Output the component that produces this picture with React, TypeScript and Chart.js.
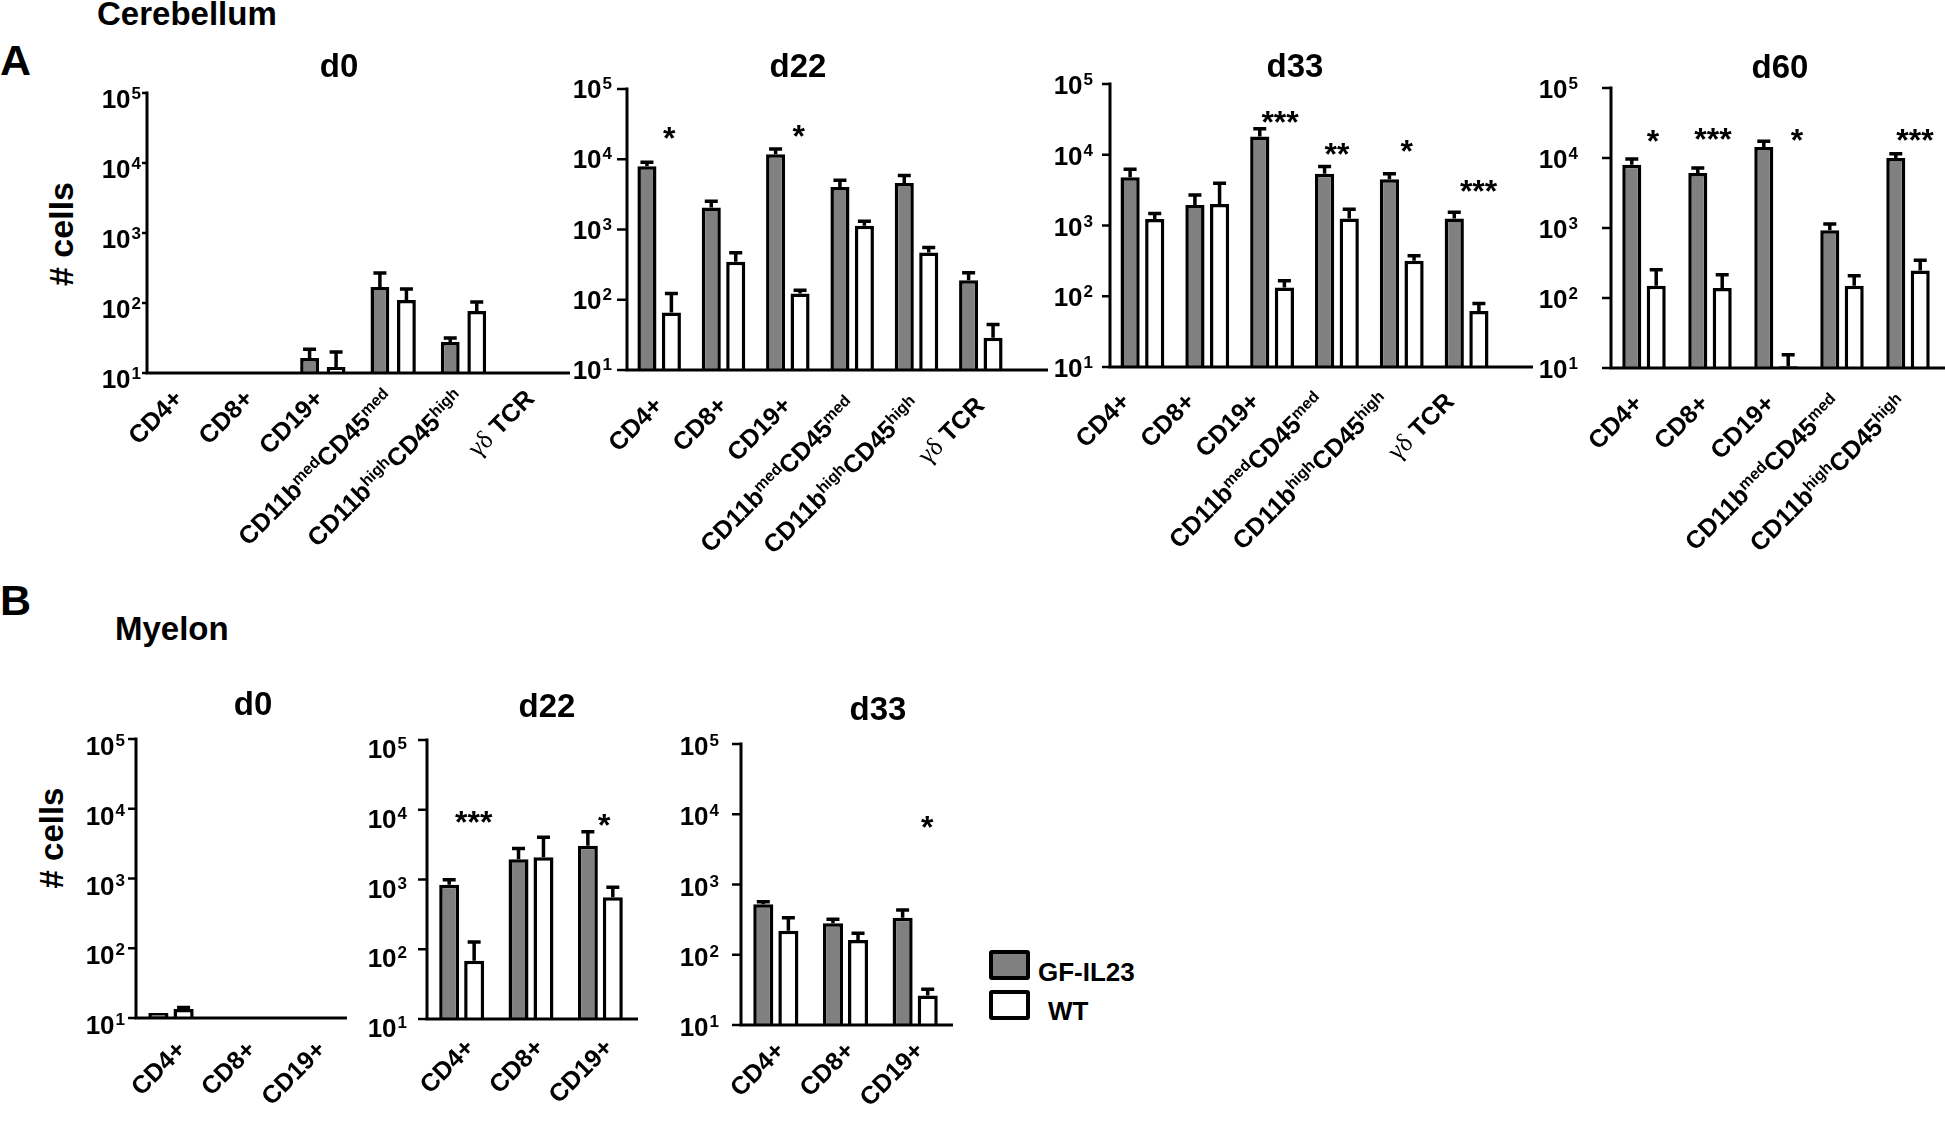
import React, { useEffect, useRef } from 'react';
import { Chart, registerables } from 'chart.js';
Chart.register(...registerables);

const SANS = '"Liberation Sans", Arial, Helvetica, sans-serif';
const SERIF = '"Liberation Serif", "Times New Roman", serif';
const GRAY = '#808080';

// ---------- categories & ticks ----------
const cerebellumCats = ['CD4+', 'CD8+', 'CD19+', 'CD11b^{med}CD45^{med}', 'CD11b^{high}CD45^{high}', 'γδ TCR'];
const cerebellumD60Cats = ['CD4+', 'CD8+', 'CD19+', 'CD11b^{med}CD45^{med}', 'CD11b^{high}CD45^{high}'];
const myelonCats = ['CD4+', 'CD8+', 'CD19+'];
const yTickValues = [10, 100, 1000, 10000, 100000];
const seriesNames = ['GF-IL23', 'WT'];

// ---------- A: Cerebellum ----------
const aD0Gf = [10.3, 10.3, 16.4, 169, 27.7, 10.3];
const aD0GfErr = [10.3, 10.3, 21.9, 269, 31.6, 10.3];
const aD0Wt = [10.3, 10.3, 12.2, 110, 76.9, 10.3];
const aD0WtErr = [10.3, 10.3, 20, 158, 103, 10.3];

const aD22Gf = [7940, 2060, 11800, 4040, 4610, 190];
const aD22GfErr = [9060, 2530, 14000, 5020, 5860, 242];
const aD22Wt = [66, 347, 123, 1128, 471, 28.8];
const aD22WtErr = [123, 466, 137, 1313, 555, 44.6];

const aD33Gf = [4810, 1950, 18150, 5370, 4510, 1260];
const aD33GfErr = [6250, 2700, 23300, 6820, 5370, 1540];
const aD33Wt = [1236, 2018, 133, 1260, 318, 62];
const aD33WtErr = [1472, 3957, 165, 1694, 374, 79];

const aD60Gf = [8035, 6110, 14360, 926, 10000];
const aD60GfErr = [9680, 7195, 17300, 1140, 11530];
const aD60Wt = [150, 139, 10.6, 150, 248];
const aD60WtErr = [254, 215, 15.5, 208, 345];

// ---------- B: Myelon ----------
const bD0Gf = [11.8, 10.2, 10.2];
const bD0GfErr = [12.3, 10.2, 10.2];
const bD0Wt = [13.5, 10.2, 10.2];
const bD0WtErr = [14.2, 10.2, 10.2];

const bD22Gf = [839, 1955, 3035];
const bD22GfErr = [989, 2778, 4820];
const bD22Wt = [68.4, 2090, 558];
const bD22WtErr = [127, 4040, 777];

const bD33Gf = [522, 280, 337];
const bD33GfErr = [570, 319, 434];
const bD33Wt = [220, 162, 26.2];
const bD33WtErr = [337, 202, 32.2];

// significance marks: category index, text, level (data units)
type Star = { i: number; text: string; value: number; dx: number };
const aD22Stars: Star[] = [
  { i: 0, text: '*', value: 25200, dx: 10 },
  { i: 2, text: '*', value: 26900, dx: 11 },
];
const aD33Stars: Star[] = [
  { i: 2, text: '***', value: 37000, dx: 8 },
  { i: 3, text: '**', value: 12900, dx: 0 },
  { i: 4, text: '*', value: 13970, dx: 5 },
  { i: 5, text: '***', value: 3860, dx: 12 },
];
const aD60Stars: Star[] = [
  { i: 0, text: '*', value: 21700, dx: 9 },
  { i: 1, text: '***', value: 23500, dx: 3 },
  { i: 2, text: '*', value: 22400, dx: 21 },
  { i: 4, text: '***', value: 23100, dx: 7 },
];
const bD22Stars: Star[] = [
  { i: 0, text: '***', value: 8410, dx: 12 },
  { i: 2, text: '*', value: 7740, dx: 4 },
];
const bD33Stars: Star[] = [{ i: 2, text: '*', value: 8280, dx: 12 }];

// ---------- layout ----------
type Panel = {
  key: string;
  title: string;
  cats: string[];
  gf: number[]; gfErr: number[]; wt: number[]; wtErr: number[];
  stars: Star[];
  box: { x: number; y: number; w: number; h: number };
  axisLeft: number; axisTop: number; axisBottom: number; catRight: number; lineRight: number;
  titleX: number; titleBase: number;
  tickLabelRight: number; tickDy: number; tickLen: number;
  labelDx: number; labelDy: number;
  catPct: number; barPct: number;
};

const panels: Panel[] = [
  {
    key: 'a0', title: 'd0', cats: cerebellumCats, gf: aD0Gf, gfErr: aD0GfErr, wt: aD0Wt, wtErr: aD0WtErr, stars: [],
    box: { x: 60, y: 40, w: 530, h: 560 }, axisLeft: 147, axisTop: 93, axisBottom: 373, catRight: 569, lineRight: 570,
    titleX: 339, titleBase: 77, tickLabelRight: 141, tickDy: 15, tickLen: 5, labelDx: 2, labelDy: 27, catPct: 0.754, barPct: 0.71,
  },
  {
    key: 'a22', title: 'd22', cats: cerebellumCats, gf: aD22Gf, gfErr: aD22GfErr, wt: aD22Wt, wtErr: aD22WtErr, stars: aD22Stars,
    box: { x: 540, y: 40, w: 520, h: 560 }, axisLeft: 627, axisTop: 89, axisBottom: 370, catRight: 1013, lineRight: 1048,
    titleX: 798, titleBase: 77, tickLabelRight: 612, tickDy: 9, tickLen: 10, labelDx: 5, labelDy: 37, catPct: 0.76, barPct: 0.78,
  },
  {
    key: 'a33', title: 'd33', cats: cerebellumCats, gf: aD33Gf, gfErr: aD33GfErr, wt: aD33Wt, wtErr: aD33WtErr, stars: aD33Stars,
    box: { x: 1025, y: 40, w: 520, h: 560 }, axisLeft: 1110, axisTop: 84, axisBottom: 367, catRight: 1499, lineRight: 1533,
    titleX: 1295, titleBase: 77, tickLabelRight: 1093, tickDy: 10, tickLen: 8, labelDx: -11, labelDy: 36, catPct: 0.76, barPct: 0.78,
  },
  {
    key: 'a60', title: 'd60', cats: cerebellumD60Cats, gf: aD60Gf, gfErr: aD60GfErr, wt: aD60Wt, wtErr: aD60WtErr, stars: aD60Stars,
    box: { x: 1520, y: 40, w: 425, h: 560 }, axisLeft: 1611, axisTop: 88, axisBottom: 368, catRight: 1941, lineRight: 1945,
    titleX: 1780, titleBase: 78, tickLabelRight: 1578, tickDy: 10, tickLen: 9, labelDx: 0, labelDy: 37, catPct: 0.74, barPct: 0.78,
  },
  {
    key: 'b0', title: 'd0', cats: myelonCats, gf: bD0Gf, gfErr: bD0GfErr, wt: bD0Wt, wtErr: bD0WtErr, stars: [],
    box: { x: 60, y: 680, w: 300, h: 441 }, axisLeft: 136, axisTop: 739, axisBottom: 1018, catRight: 346, lineRight: 347,
    titleX: 253, titleBase: 715, tickLabelRight: 125, tickDy: 16, tickLen: 8, labelDx: 16, labelDy: 33, catPct: 0.72, barPct: 0.8,
  },
  {
    key: 'b22', title: 'd22', cats: myelonCats, gf: bD22Gf, gfErr: bD22GfErr, wt: bD22Wt, wtErr: bD22WtErr, stars: bD22Stars,
    box: { x: 340, y: 680, w: 310, h: 441 }, axisLeft: 427, axisTop: 740, axisBottom: 1019, catRight: 635, lineRight: 638,
    titleX: 547, titleBase: 717, tickLabelRight: 407, tickDy: 18, tickLen: 9, labelDx: 14, labelDy: 30, catPct: 0.72, barPct: 0.8,
  },
  {
    key: 'b33', title: 'd33', cats: myelonCats, gf: bD33Gf, gfErr: bD33GfErr, wt: bD33Wt, wtErr: bD33WtErr, stars: bD33Stars,
    box: { x: 650, y: 680, w: 320, h: 441 }, axisLeft: 741, axisTop: 744, axisBottom: 1025, catRight: 950, lineRight: 953,
    titleX: 878, titleBase: 720, tickLabelRight: 719, tickDy: 11, tickLen: 9, labelDx: 10, labelDy: 27, catPct: 0.72, barPct: 0.8,
  },
];

// ---------- drawing helpers ----------
type Seg = { text: string; kind: 'main' | 'sup' | 'greek'; w?: number };
function parseLabel(label: string): Seg[] {
  const segs: Seg[] = [];
  let buf = '';
  let i = 0;
  const flush = () => { if (buf) { segs.push({ text: buf, kind: 'main' }); buf = ''; } };
  while (i < label.length) {
    const ch = label[i];
    if (ch === '^' && label[i + 1] === '{') {
      flush();
      const end = label.indexOf('}', i);
      segs.push({ text: label.slice(i + 2, end), kind: 'sup' });
      i = end + 1;
      continue;
    }
    if (ch === 'γ' || ch === 'δ') {
      flush();
      let g = '';
      while (i < label.length && (label[i] === 'γ' || label[i] === 'δ')) { g += label[i]; i++; }
      segs.push({ text: g, kind: 'greek' });
      continue;
    }
    buf += ch;
    i++;
  }
  flush();
  return segs;
}

const LABEL_SIZE = 25;
const SUP_SIZE = 16;
function segFont(s: Seg) {
  if (s.kind === 'sup') return `bold ${SUP_SIZE}px ${SANS}`;
  if (s.kind === 'greek') return `${LABEL_SIZE + 1}px ${SERIF}`;
  return `bold ${LABEL_SIZE}px ${SANS}`;
}

function makePlugin(p: Panel) {
  return {
    id: 'prismStyle_' + p.key,
    afterDatasetsDraw(chart: any) {
      const ctx: CanvasRenderingContext2D = chart.ctx;
      const xs = chart.scales.x;
      const ys = chart.scales.y;
      const ca = chart.chartArea;
      const ox = p.box.x;
      const oy = p.box.y;
      ctx.save();
      ctx.fillStyle = '#000';
      ctx.strokeStyle = '#000';

      // error bars (upper only)
      const errs = [p.gfErr, p.wtErr];
      ctx.lineWidth = 3.5;
      ctx.lineCap = 'butt';
      chart.data.datasets.forEach((_ds: any, di: number) => {
        const meta = chart.getDatasetMeta(di);
        meta.data.forEach((el: any, i: number) => {
          const top = el.y;
          const ey = ys.getPixelForValue(errs[di][i]);
          if (top - ey < 1.5) return;
          ctx.beginPath();
          ctx.moveTo(el.x, top);
          ctx.lineTo(el.x, ey);
          ctx.moveTo(el.x - 6.5, ey);
          ctx.lineTo(el.x + 6.5, ey);
          ctx.stroke();
        });
      });

      // axes
      ctx.lineWidth = 3;
      ctx.beginPath();
      ctx.moveTo(ca.left, ca.top - 1.5);
      ctx.lineTo(ca.left, ca.bottom + 1.5);
      ctx.moveTo(ca.left - 1.5, ca.bottom);
      ctx.lineTo(p.lineRight - ox, ca.bottom);
      ctx.stroke();

      // y ticks + labels (10^n)
      ctx.lineWidth = 2.5;
      ctx.textBaseline = 'alphabetic';
      ctx.textAlign = 'left';
      yTickValues.forEach((v) => {
        const y = ys.getPixelForValue(v);
        ctx.beginPath();
        ctx.moveTo(ca.left - p.tickLen, y);
        ctx.lineTo(ca.left, y);
        ctx.stroke();
        const exp = String(Math.round(Math.log10(v)));
        ctx.font = `bold 17px ${SANS}`;
        const we = ctx.measureText(exp).width;
        ctx.font = `bold 26px ${SANS}`;
        const wb = ctx.measureText('10').width;
        const right = p.tickLabelRight - ox;
        ctx.fillText('10', right - we - wb - 1, y + p.tickDy);
        ctx.font = `bold 17px ${SANS}`;
        ctx.fillText(exp, right - we, y + p.tickDy - 9);
      });

      // title
      ctx.font = `bold 33px ${SANS}`;
      ctx.textAlign = 'center';
      ctx.fillText(p.title, p.titleX - ox, p.titleBase - oy);

      // significance stars
      ctx.font = `bold 32px ${SANS}`;
      p.stars.forEach((s) => {
        const x = xs.getPixelForValue(s.i) + s.dx;
        const y = ys.getPixelForValue(s.value);
        ctx.fillText(s.text, x, y + 18);
      });

      // category labels, rotated 45 degrees
      ctx.textAlign = 'left';
      p.cats.forEach((label, i) => {
        const cx = xs.getPixelForValue(i);
        const segs = parseLabel(label);
        let total = 0;
        segs.forEach((s) => { ctx.font = segFont(s); s.w = ctx.measureText(s.text).width; total += s.w; });
        ctx.save();
        ctx.translate(cx + p.labelDx, ca.bottom + p.labelDy);
        ctx.rotate(-Math.PI / 4);
        let x = -total;
        segs.forEach((s) => {
          ctx.font = segFont(s);
          ctx.fillText(s.text, x, s.kind === 'sup' ? -8 : 0);
          x += s.w || 0;
        });
        ctx.restore();
      });
      ctx.restore();
    },
  };
}

function PanelChart({ p }: { p: Panel }) {
  const ref = useRef<HTMLCanvasElement>(null);
  useEffect(() => {
    const canvas = ref.current;
    if (!canvas) return;
    const chart = new Chart(canvas, {
      type: 'bar',
      data: {
        labels: p.cats,
        datasets: [
          {
            label: seriesNames[0], data: p.gf, backgroundColor: GRAY, borderColor: '#000', borderWidth: 3.5,
            borderSkipped: 'bottom', categoryPercentage: p.catPct, barPercentage: p.barPct,
          },
          {
            label: seriesNames[1], data: p.wt, backgroundColor: '#ffffff', borderColor: '#000', borderWidth: 3.5,
            borderSkipped: 'bottom', categoryPercentage: p.catPct, barPercentage: p.barPct,
          },
        ],
      },
      options: {
        responsive: false,
        maintainAspectRatio: false,
        animation: false,
        devicePixelRatio: 1,
        events: [],
        layout: {
          padding: { top: p.axisTop - p.box.y, right: p.box.x + p.box.w - p.catRight, left: 0, bottom: 0 },
        },
        plugins: { legend: { display: false }, tooltip: { enabled: false }, title: { display: false } },
        scales: {
          x: {
            type: 'category', offset: true,
            grid: { display: false, drawTicks: false }, border: { display: false }, ticks: { display: false },
            afterFit: (s: any) => { s.height = p.box.y + p.box.h - p.axisBottom; },
          },
          y: {
            type: 'logarithmic', min: 10, max: 100000,
            grid: { display: false, drawTicks: false }, border: { display: false }, ticks: { display: false },
            afterFit: (s: any) => { s.width = p.axisLeft - p.box.x; },
          },
        },
      } as any,
      plugins: [makePlugin(p)],
    });
    return () => chart.destroy();
  }, [p]);
  return (
    <canvas
      ref={ref}
      width={p.box.w}
      height={p.box.h}
      style={{ position: 'absolute', left: p.box.x, top: p.box.y, width: p.box.w, height: p.box.h }}
    />
  );
}

function Txt({ x, base, size, children }: { x: number; base: number; size: number; children: React.ReactNode }) {
  return (
    <div
      style={{
        position: 'absolute', left: x, top: base - size * 0.8465, fontFamily: SANS, fontWeight: 'bold',
        fontSize: size, lineHeight: `${size}px`, whiteSpace: 'nowrap', color: '#000',
      }}
    >
      {children}
    </div>
  );
}

function VTxt({ cx, cy, size, children }: { cx: number; cy: number; size: number; children: React.ReactNode }) {
  return (
    <div
      style={{
        position: 'absolute', left: cx, top: cy, transform: 'translate(-50%, -50%) rotate(-90deg)',
        fontFamily: SANS, fontWeight: 'bold', fontSize: size, lineHeight: `${size}px`, whiteSpace: 'nowrap', color: '#000',
      }}
    >
      {children}
    </div>
  );
}

function LegendBox({ x, y, fill }: { x: number; y: number; fill: string }) {
  return (
    <div
      style={{
        position: 'absolute', left: x, top: y, width: 41, height: 30, boxSizing: 'border-box',
        border: '4px solid #000', borderRadius: 3, background: fill,
      }}
    />
  );
}

export default function App() {
  return (
    <div
      style={{
        position: 'absolute', left: 0, top: 0, width: 1945, height: 1121, background: '#fff', overflow: 'hidden',
      }}
    >
      <Txt x={97} base={25} size={33}>Cerebellum</Txt>
      <Txt x={0} base={75} size={43}>A</Txt>
      <Txt x={0} base={615} size={43}>B</Txt>
      <Txt x={115} base={640} size={33}>Myelon</Txt>
      <VTxt cx={61} cy={234} size={34}># cells</VTxt>
      <VTxt cx={51} cy={838} size={33}># cells</VTxt>
      {panels.map((p) => (
        <PanelChart key={p.key} p={p} />
      ))}
      <LegendBox x={989} y={950} fill={GRAY} />
      <LegendBox x={989} y={990} fill="#ffffff" />
      <Txt x={1038} base={981} size={26}>{seriesNames[0]}</Txt>
      <Txt x={1048} base={1020} size={26}>{seriesNames[1]}</Txt>
    </div>
  );
}
